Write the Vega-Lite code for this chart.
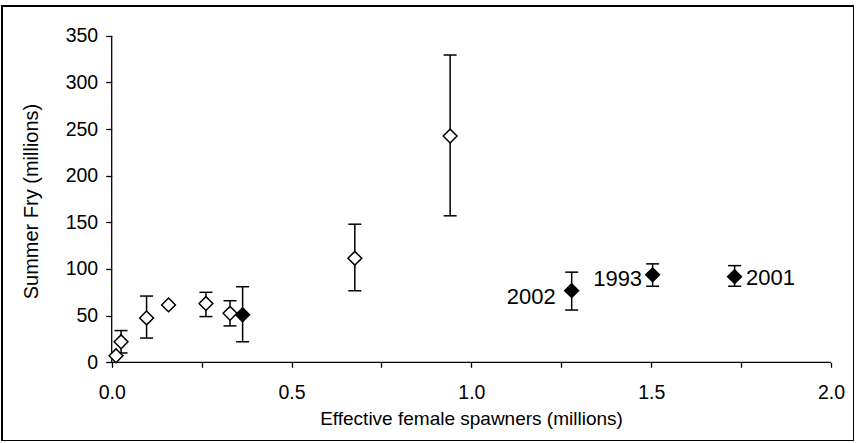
{
  "$schema": "https://vega.github.io/schema/vega-lite/v6.json",
  "width": 852,
  "height": 435,
  "autosize": {"type": "none"},
  "padding": {"left": 2, "top": 6, "right": 0, "bottom": 0},
  "background": "white",
  "config": {
    "font": "Liberation Sans",
    "view": {"stroke": "black", "strokeWidth": 2}
  },
  "data": {
    "values": [
      {"x": 0.012, "y": 7, "type": "open"},
      {"x": 0.026, "y": 22, "lo": 10, "hi": 34, "type": "open"},
      {"x": 0.097, "y": 47.5, "lo": 26, "hi": 71, "type": "open"},
      {"x": 0.158, "y": 61.5, "type": "open"},
      {"x": 0.262, "y": 63, "lo": 49, "hi": 75, "type": "open"},
      {"x": 0.329, "y": 52.5, "lo": 39, "hi": 66, "type": "open"},
      {"x": 0.364, "y": 51, "lo": 22, "hi": 81, "type": "filled"},
      {"x": 0.676, "y": 111.5, "lo": 76.7, "hi": 148, "type": "open"},
      {"x": 0.941, "y": 242.5, "lo": 157, "hi": 329.3, "type": "open"},
      {"x": 1.279, "y": 76.8, "lo": 56, "hi": 96.6, "type": "filled", "label": "2002"},
      {"x": 1.504, "y": 93.7, "lo": 81.5, "hi": 105.5, "type": "filled", "label": "1993"},
      {"x": 1.732, "y": 91.8, "lo": 81.5, "hi": 103.6, "type": "filled", "label": "2001"}
    ]
  },
  "encoding": {
    "x": {
      "field": "x", "type": "quantitative",
      "scale": {"domain": [-0.30502, 2.06395], "nice": false, "zero": false},
      "axis": {
        "title": "Effective female spawners (millions)",
        "values": [0, 0.25, 0.5, 0.75, 1, 1.25, 1.5, 1.75, 2],
        "labelExpr": "datum.value % 0.5 === 0 ? format(datum.value, '.1f') : ''",
        "offset": -78.7,
        "domain": false, "grid": false,
        "tickSize": 5, "tickWidth": 1.3, "tickColor": "black",
        "labelPadding": 16, "labelFontSize": 19.5, "labelColor": "black",
        "labelFlush": false, "labelOverlap": false,
        "titleFontSize": 19, "titleFontWeight": "normal", "titleColor": "black",
        "titleX": 469, "titleY": 61.7, "titleBaseline": "alphabetic"
      }
    },
    "y": {
      "field": "y", "type": "quantitative",
      "scale": {"domain": [-84.34, 381.85], "nice": false, "zero": false},
      "axis": {
        "title": "Summer Fry (millions)",
        "values": [0, 50, 100, 150, 200, 250, 300, 350],
        "offset": -109.7,
        "domain": false, "grid": false,
        "tickSize": 6, "tickWidth": 1.3, "tickColor": "black",
        "labelPadding": 8, "labelFontSize": 19.5, "labelColor": "black",
        "labelFlush": false, "labelOverlap": false,
        "titleFontSize": 20, "titleFontWeight": "normal", "titleColor": "black",
        "titleX": -74.2, "titleY": 195, "titleBaseline": "alphabetic"
      }
    }
  },
  "layer": [
    {
      "data": {"values": [
        {"x": 0, "y": 0, "x2": 0, "y2": 350},
        {"x": 0, "y": 0, "x2": 2, "y2": 0}
      ]},
      "mark": {"type": "rule", "color": "black", "strokeWidth": 1.3},
      "encoding": {
        "x2": {"field": "x2"},
        "y2": {"field": "y2"}
      }
    },
    {
      "mark": {"type": "rule", "color": "black", "strokeWidth": 1.5},
      "encoding": {
        "y": {"field": "lo", "type": "quantitative", "scale": {"domain": [-84.34, 381.85], "nice": false, "zero": false}, "title": "Summer Fry (millions)"},
        "y2": {"field": "hi"}
      }
    },
    {
      "mark": {"type": "tick", "orient": "horizontal", "color": "black", "size": 13, "thickness": 1.5, "opacity": 1},
      "encoding": {
        "y": {"field": "lo", "type": "quantitative", "scale": {"domain": [-84.34, 381.85], "nice": false, "zero": false}, "title": "Summer Fry (millions)"}
      }
    },
    {
      "mark": {"type": "tick", "orient": "horizontal", "color": "black", "size": 13, "thickness": 1.5, "opacity": 1},
      "encoding": {
        "y": {"field": "hi", "type": "quantitative", "scale": {"domain": [-84.34, 381.85], "nice": false, "zero": false}, "title": "Summer Fry (millions)"}
      }
    },
    {
      "mark": {"type": "point", "shape": "diamond", "size": 190, "stroke": "black", "strokeWidth": 1.5, "opacity": 1, "fillOpacity": 1, "strokeOpacity": 1},
      "encoding": {
        "fill": {"field": "type", "type": "nominal", "scale": {"domain": ["open", "filled"], "range": ["white", "black"]}, "legend": null}
      }
    },
    {
      "transform": [{"filter": "datum.label === '2002'"}],
      "mark": {"type": "text", "align": "right", "baseline": "middle", "dx": -16, "dy": 6.5, "fontSize": 22, "color": "black"},
      "encoding": {"text": {"field": "label"}}
    },
    {
      "transform": [{"filter": "datum.label === '1993'"}],
      "mark": {"type": "text", "align": "right", "baseline": "middle", "dx": -10.5, "dy": 4, "fontSize": 22, "color": "black"},
      "encoding": {"text": {"field": "label"}}
    },
    {
      "transform": [{"filter": "datum.label === '2001'"}],
      "mark": {"type": "text", "align": "left", "baseline": "middle", "dx": 11.5, "dy": 1, "fontSize": 22, "color": "black"},
      "encoding": {"text": {"field": "label"}}
    }
  ]
}
